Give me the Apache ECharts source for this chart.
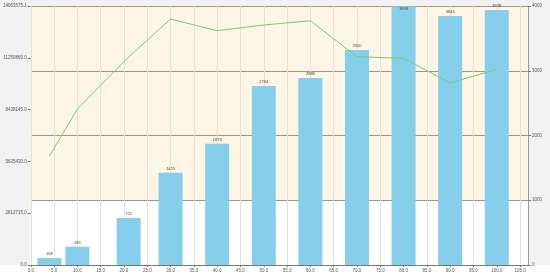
<!DOCTYPE html>
<html><head><meta charset="utf-8">
<script src="https://cdn.jsdelivr.net/npm/echarts@6/dist/echarts.min.js"></script>
<style>html,body{margin:0;padding:0}#c{width:550px;height:275px}</style>
</head><body><div id="c"></div>
<script>
const xValues = [4, 10, 21, 30, 40, 50, 60, 70, 80, 90, 100];
const barValues = [108, 283, 725, 1425, 1873, 2764, 2888, 3320, 3998, 3846, 3938];
const lineValues = [5918000, 8471000, 11294000, 13358000, 12722000, 13032000, 13265000, 11310000, 11224000, 9882000, 10626000];
const leftTickLabels = ['0.0', '2812715.0', '5625430.0', '8438145.0', '11250860.0', '14063575.1'];
const rightTickLabels = ['0', '1000', '2000', '3000', '4000'];

const leftMax = 14063575.1;
const leftInterval = leftMax / 5;
const chart = echarts.init(document.getElementById('c'), null, {renderer: 'canvas'});
const fs = 4.5;
const cream = '#fdf5e6';
chart.setOption({
  animation: false,
  backgroundColor: {type: 'linear', x: 0, y: 0, x2: 0, y2: 1, colorStops: [
    {offset: 0, color: '#f2f2f2'}, {offset: 0.963, color: '#f2f2f2'},
    {offset: 0.964, color: '#ffffff'}, {offset: 1, color: '#ffffff'}]},
  grid: {left: 30, right: 22, top: 6, bottom: 10, show: true, backgroundColor: cream, borderWidth: 0},
  xAxis: {
    type: 'value', min: 0, max: 106.7, interval: 5,
    axisLine: {show: true, lineStyle: {color: '#777', width: 1}},
    axisTick: {show: true, length: 2, lineStyle: {color: '#777'}},
    axisLabel: {fontSize: fs, color: '#555', margin: 3, showMaxLabel: false,
      formatter: v => (Math.abs(v / 5 - Math.round(v / 5)) < 1e-6 ? v.toFixed(1) : '')},
    splitLine: {show: true, lineStyle: {color: '#e9e0d2', width: 1}}
  },
  yAxis: [{
    type: 'value', min: 0, max: leftMax, interval: leftInterval, position: 'left',
    axisLine: {show: false},
    axisTick: {show: true, length: 3, lineStyle: {color: '#777'}},
    axisLabel: {fontSize: fs, color: '#555', margin: 4, showMaxLabel: true,
      formatter: (v) => leftTickLabels[Math.round(v / leftInterval)]},
    splitLine: {show: true, lineStyle: {color: '#e9e0d2', width: 1}}
  }, {
    type: 'value', min: 0, max: 4000, interval: 1000, position: 'right',
    axisLine: {show: true, lineStyle: {color: '#999', width: 1}},
    axisTick: {show: true, length: 3, lineStyle: {color: '#777'}},
    axisLabel: {fontSize: fs, color: '#555', margin: 4,
      formatter: (v) => rightTickLabels[Math.round(v / 1000)]},
    splitLine: {show: true, lineStyle: {color: '#9c9488', width: 1}},
    splitArea: {show: true, areaStyle: {color: ['#ffffff', cream, cream, cream]}}
  }],
  series: [{
    type: 'bar', yAxisIndex: 1, barWidth: 24,
    itemStyle: {color: '#87ceeb'},
    label: {show: true, position: 'top', distance: 2, fontSize: 4, color: '#444',
      formatter: p => String(p.value[1])},
    data: xValues.map((x, i) => {
      const d = {value: [x, barValues[i]]};
      if (barValues[i] > 3950) d.label = {position: 'insideTop', distance: 1};
      return d;
    }),
    z: 2
  }, {
    type: 'line', yAxisIndex: 0, symbol: 'none',
    lineStyle: {color: '#74cc74', width: 1},
    data: xValues.map((x, i) => [x, lineValues[i]]),
    z: 3
  }]
});
</script></body></html>
